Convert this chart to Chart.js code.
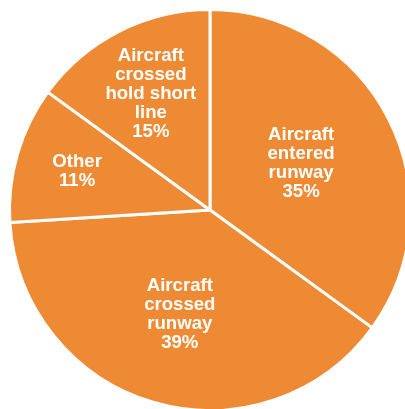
<!DOCTYPE html>
<html>
<head>
<meta charset="utf-8">
<script src="https://cdn.jsdelivr.net/npm/chart.js@4"></script>
<style>
  html, body { margin: 0; padding: 0; background: #fff; overflow: hidden; }
  #wrap { width: 420px; height: 420px; }
</style>
</head>
<body>
<div id="wrap"><canvas id="pie" width="420" height="420"></canvas></div>
<script>
// incursion types, clockwise from 12 o'clock
const categories = [
  ['Aircraft', 'entered', 'runway'],
  ['Aircraft', 'crossed', 'runway'],
  ['Other'],
  ['Aircraft', 'crossed', 'hold short', 'line']
];
const shares = [35, 39, 11, 15];

// how far out along each slice the label sits (fraction of radius)
const labelDepth = [0.51, 0.54, 0.69, 0.65];

const ORANGE = '#ef8a34';

const sliceLabels = {
  id: 'sliceLabels',
  afterDatasetsDraw(chart) {
    const ctx = chart.ctx;
    const arcs = chart.getDatasetMeta(0).data;
    ctx.save();
    ctx.fillStyle = '#fff';
    ctx.font = 'bold 18.6px "Liberation Sans", Arial, sans-serif';
    ctx.textAlign = 'center';
    ctx.textBaseline = 'middle';
    arcs.forEach((arc, i) => {
      const p = arc.getProps(['x', 'y', 'startAngle', 'endAngle', 'outerRadius'], true);
      const mid = (p.startAngle + p.endAngle) / 2;
      const r = p.outerRadius * labelDepth[i];
      const cx = p.x + Math.cos(mid) * r;
      const cy = p.y + Math.sin(mid) * r;
      const lines = categories[i].concat([shares[i] + '%']);
      const lh = 19;
      const top = cy - (lines.length - 1) * lh / 2;
      lines.forEach((t, j) => ctx.fillText(t, cx, top + j * lh));
    });
    ctx.restore();
  }
};

new Chart(document.getElementById('pie'), {
  type: 'pie',
  data: {
    labels: categories,
    datasets: [{
      data: shares,
      backgroundColor: ORANGE,
      borderColor: '#fff',
      borderWidth: 3
    }]
  },
  options: {
    responsive: false,
    animation: false,
    layout: { padding: 8 },
    plugins: {
      legend: { display: false },
      tooltip: { enabled: false }
    }
  },
  plugins: [sliceLabels]
});
</script>
</body>
</html>
